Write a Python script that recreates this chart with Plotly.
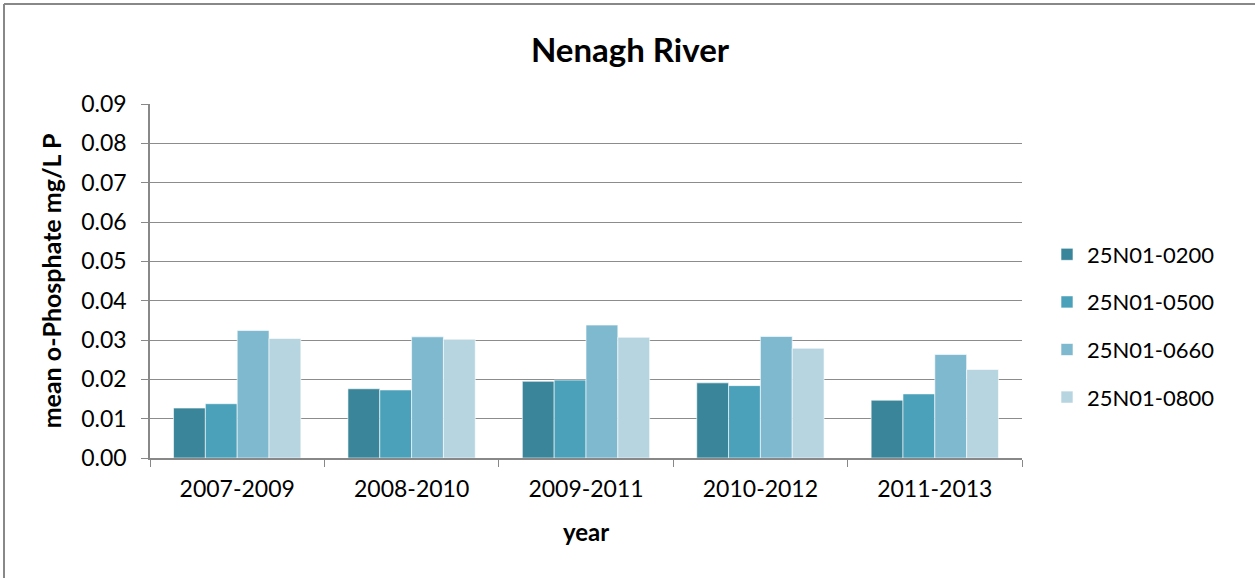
import plotly.graph_objects as go

# Three-year periods and the mean o-Phosphate (mg/L P) at each station
years = ["2007-2009", "2008-2010", "2009-2011", "2010-2012", "2011-2013"]
stations = ["25N01-0200", "25N01-0500", "25N01-0660", "25N01-0800"]
st_0200 = [0.0127, 0.0176, 0.0195, 0.0191, 0.0147]
st_0500 = [0.0138, 0.0173, 0.0198, 0.0184, 0.0163]
st_0660 = [0.0324, 0.0308, 0.0338, 0.0309, 0.0263]
st_0800 = [0.0304, 0.0302, 0.0307, 0.0279, 0.0225]
y_ticks = [0.00, 0.01, 0.02, 0.03, 0.04, 0.05, 0.06, 0.07, 0.08, 0.09]

colors = ["#3A8599", "#4AA1B9", "#7EB9CF", "#B7D5E0"]
FONT = "Lato"
W, H = 1255, 578
ML, MR, MT, MB = 150, 233, 104, 120

fig = go.Figure()
for i, (name, vals) in enumerate(zip(stations, [st_0200, st_0500, st_0660, st_0800])):
    fig.add_trace(go.Bar(
        x=years, y=vals, name=name, legendgroup=name,
        marker=dict(color=colors[i], line=dict(color="rgba(255,255,255,0.6)", width=1)),
    ))

pw, ph = W - ML - MR, H - MT - MB


def px_x(p):
    return (p - ML) / pw


def px_y(p):
    return (H - MB - p) / ph


fig.update_layout(
    width=W, height=H,
    margin=dict(l=ML, r=MR, t=MT, b=MB),
    paper_bgcolor="white", plot_bgcolor="white",
    barmode="group", bargap=0.27, bargroupgap=0,
    font=dict(family=FONT, color="black", size=23),
    title=dict(text="<b>Nenagh River</b>", xref="container", x=630 / W, xanchor="center",
               yref="container", y=1 - 50 / H, yanchor="middle",
               font=dict(size=33, family=FONT)),
    xaxis=dict(
        showline=True, linecolor="#888", linewidth=1.5,
        ticks="outside", tickson="boundaries", ticklen=7, tickcolor="#888",
        tickfont=dict(size=23), showgrid=False, ticklabelstandoff=10,
        title=dict(text="<b>year</b>", font=dict(size=24), standoff=23),
    ),
    yaxis=dict(
        range=[0, 0.09], tickvals=y_ticks, tickformat=".2f",
        showline=True, linecolor="#888", linewidth=1.5,
        ticks="outside", ticklen=7, tickcolor="#888",
        showgrid=True, gridcolor="#8c8c8c", gridwidth=1.3,
        tickfont=dict(size=23), zeroline=False, ticklabelstandoff=10,
        title=dict(text="<b>mean o-Phosphate mg/L P</b>", font=dict(size=25), standoff=12),
    ),
    legend=dict(
        x=px_x(1047), xanchor="left", y=px_y(326), yanchor="middle",
        font=dict(size=22), traceorder="grouped", tracegroupgap=16,
        itemwidth=30,
    ),
    shapes=[
        dict(type="line", xref="paper", yref="paper",
             x0=px_x(4), x1=px_x(4), y0=px_y(4), y1=px_y(H + 5),
             line=dict(color="#888", width=2)),
        dict(type="line", xref="paper", yref="paper",
             x0=px_x(4), x1=px_x(W + 5), y0=px_y(4), y1=px_y(4),
             line=dict(color="#888", width=2)),
    ],
)

fig.write_html("out.html")
